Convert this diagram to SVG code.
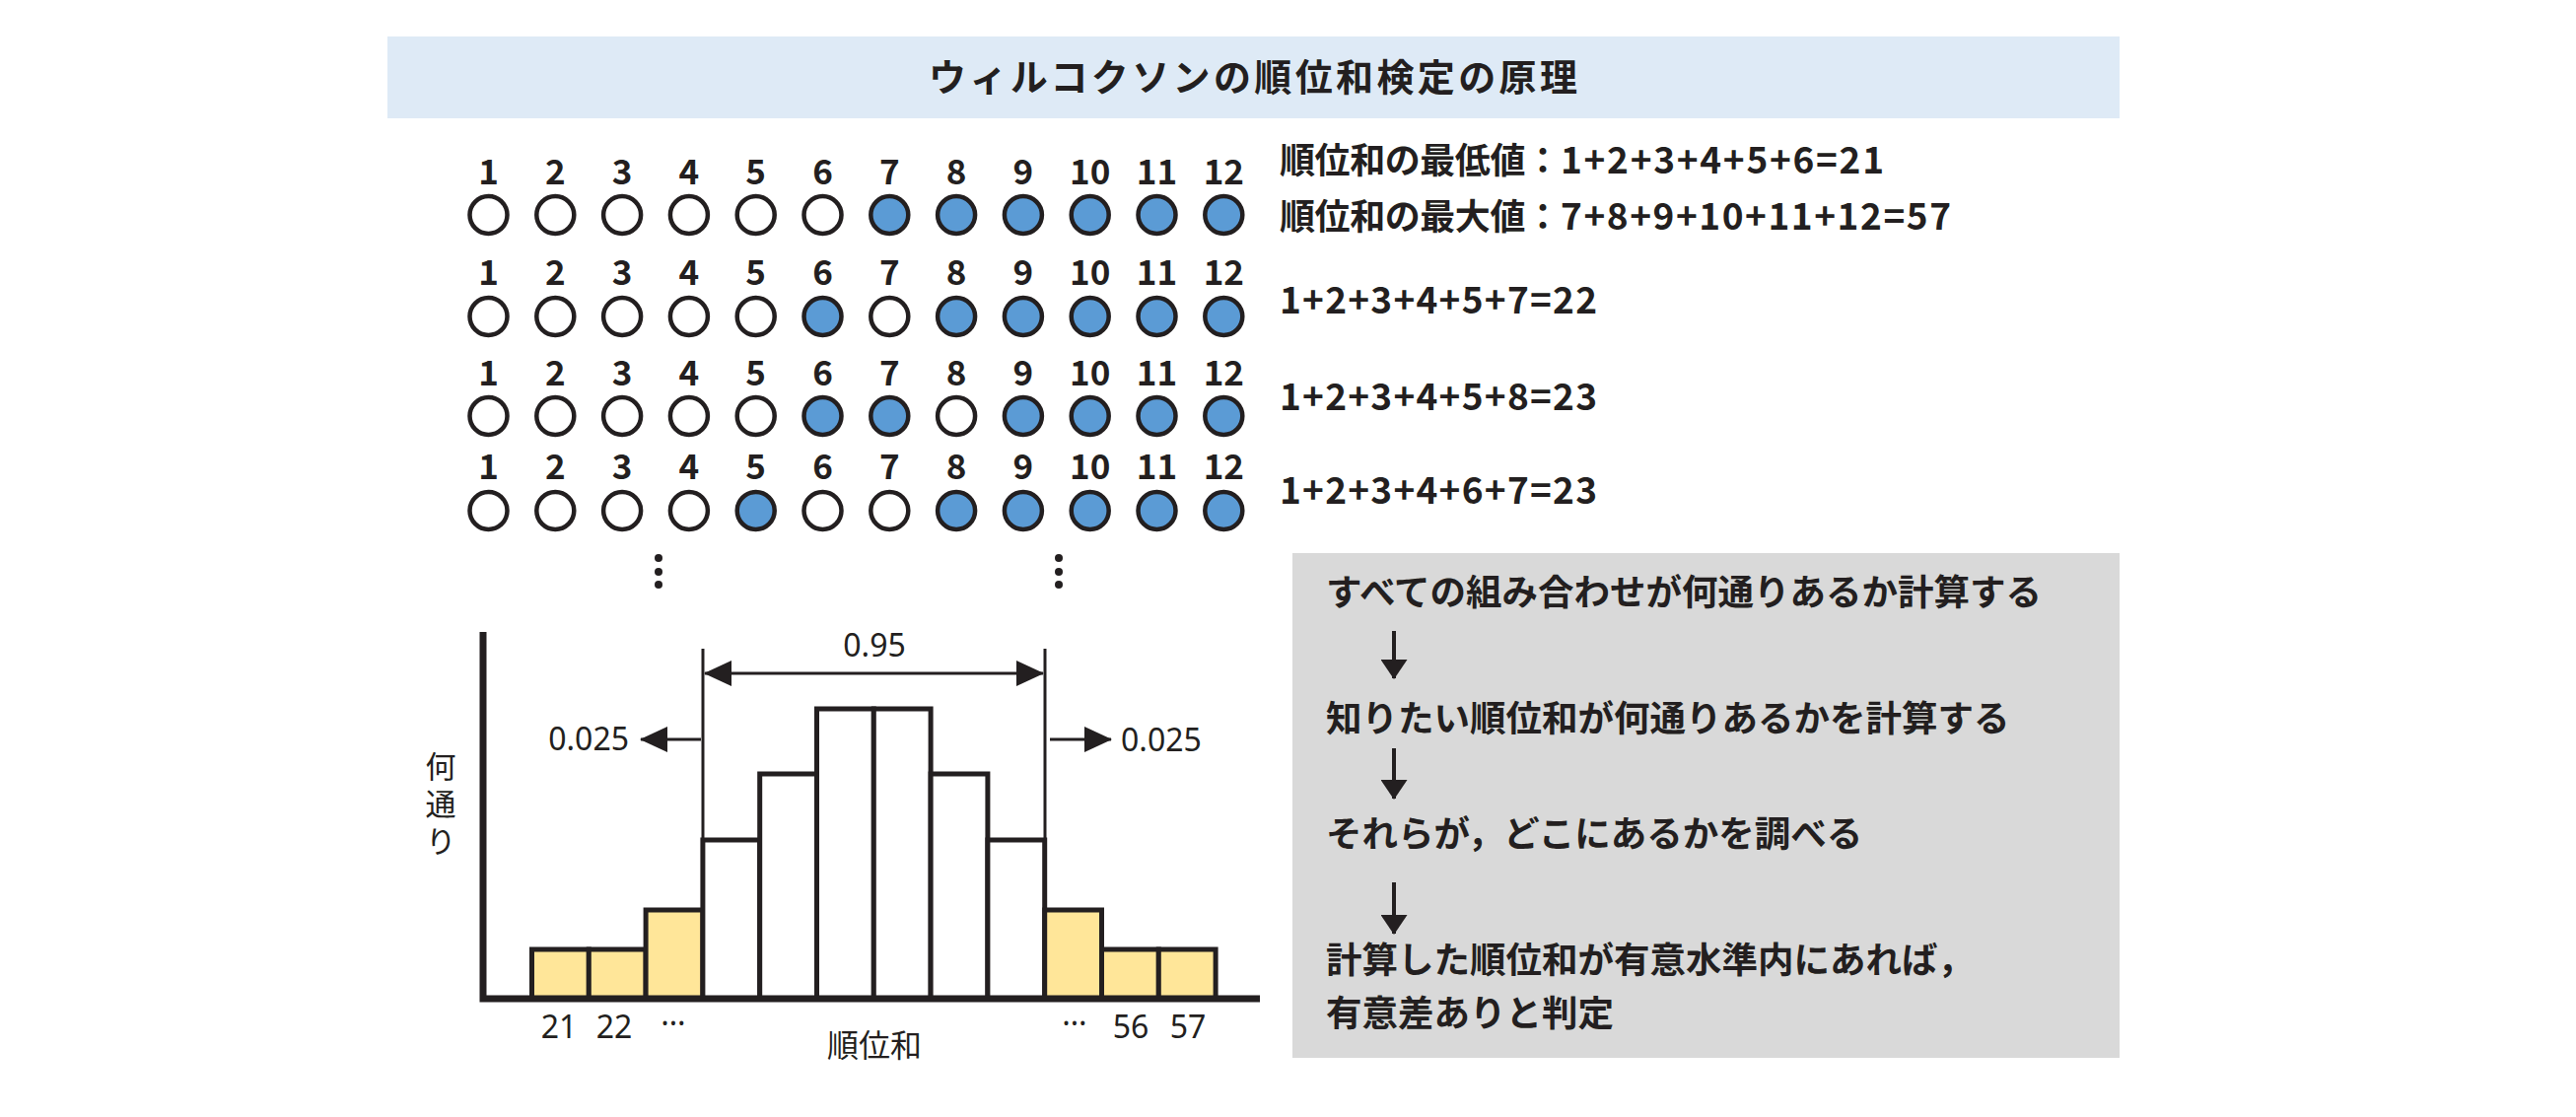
<svg xmlns="http://www.w3.org/2000/svg" width="2613" height="1133" viewBox="0 0 2613 1133">
<defs>
<style>
.t{font-family:"Noto Sans CJK JP","Noto Sans",sans-serif;fill:#231f20}
.b{font-weight:bold}
.n{font-family:"Noto Sans CJK JP","Noto Sans",sans-serif;font-weight:bold;font-size:35px;fill:#231f20;text-anchor:middle}
.r{font-family:"Noto Sans","Noto Sans CJK JP",sans-serif;font-size:32px;fill:#231f20}
.c{stroke:#231f20;stroke-width:4.5;fill:#fff}
.f{fill:#5b9bd5}
.y{fill:#ffe699;stroke:#231f20;stroke-width:5}
.w{fill:#fff;stroke:#231f20;stroke-width:5}
.ln{stroke:#231f20;stroke-width:3;fill:none}
.fl{stroke:#231f20;stroke-width:4;fill:none}
</style>
<marker id="ah" viewBox="0 0 28 26" markerWidth="28" markerHeight="26" refX="27" refY="13" orient="auto-start-reverse" markerUnits="userSpaceOnUse">
<path d="M0,0 L28,13 L0,26 z" fill="#231f20"/>
</marker>
<marker id="ah2" viewBox="0 0 20 27" markerWidth="20" markerHeight="27" refX="19" refY="13.5" orient="auto" markerUnits="userSpaceOnUse">
<path d="M0,0 L20,13.5 L0,27 z" fill="#231f20"/>
</marker>
</defs>
<rect width="2613" height="1133" fill="#fff"/>

<g id="title">
<rect x="393" y="37" width="1757" height="83" fill="#deeaf6"/>
<text class="t b" x="942" y="92" font-size="38" textLength="658">ウィルコクソンの順位和検定の原理</text>
</g>

<g id="row1">
<g class="n">
<text x="495.5" y="187">1</text><text x="563.3" y="187">2</text><text x="631.1" y="187">3</text><text x="698.9" y="187">4</text><text x="766.7" y="187">5</text><text x="834.5" y="187">6</text><text x="902.3" y="187">7</text><text x="970.1" y="187">8</text><text x="1037.9" y="187">9</text><text x="1105.7" y="187">10</text><text x="1173.5" y="187">11</text><text x="1241.3" y="187">12</text>
</g>
<circle class="c" cx="495.5" cy="218" r="19"/><circle class="c" cx="563.3" cy="218" r="19"/><circle class="c" cx="631.1" cy="218" r="19"/><circle class="c" cx="698.9" cy="218" r="19"/><circle class="c" cx="766.7" cy="218" r="19"/><circle class="c" cx="834.5" cy="218" r="19"/><circle class="c f" cx="902.3" cy="218" r="19"/><circle class="c f" cx="970.1" cy="218" r="19"/><circle class="c f" cx="1037.9" cy="218" r="19"/><circle class="c f" cx="1105.7" cy="218" r="19"/><circle class="c f" cx="1173.5" cy="218" r="19"/><circle class="c f" cx="1241.3" cy="218" r="19"/>
</g>

<g id="row2">
<g class="n">
<text x="495.5" y="289">1</text><text x="563.3" y="289">2</text><text x="631.1" y="289">3</text><text x="698.9" y="289">4</text><text x="766.7" y="289">5</text><text x="834.5" y="289">6</text><text x="902.3" y="289">7</text><text x="970.1" y="289">8</text><text x="1037.9" y="289">9</text><text x="1105.7" y="289">10</text><text x="1173.5" y="289">11</text><text x="1241.3" y="289">12</text>
</g>
<circle class="c" cx="495.5" cy="321" r="19"/><circle class="c" cx="563.3" cy="321" r="19"/><circle class="c" cx="631.1" cy="321" r="19"/><circle class="c" cx="698.9" cy="321" r="19"/><circle class="c" cx="766.7" cy="321" r="19"/><circle class="c f" cx="834.5" cy="321" r="19"/><circle class="c" cx="902.3" cy="321" r="19"/><circle class="c f" cx="970.1" cy="321" r="19"/><circle class="c f" cx="1037.9" cy="321" r="19"/><circle class="c f" cx="1105.7" cy="321" r="19"/><circle class="c f" cx="1173.5" cy="321" r="19"/><circle class="c f" cx="1241.3" cy="321" r="19"/>
</g>

<g id="row3">
<g class="n">
<text x="495.5" y="391">1</text><text x="563.3" y="391">2</text><text x="631.1" y="391">3</text><text x="698.9" y="391">4</text><text x="766.7" y="391">5</text><text x="834.5" y="391">6</text><text x="902.3" y="391">7</text><text x="970.1" y="391">8</text><text x="1037.9" y="391">9</text><text x="1105.7" y="391">10</text><text x="1173.5" y="391">11</text><text x="1241.3" y="391">12</text>
</g>
<circle class="c" cx="495.5" cy="422" r="19"/><circle class="c" cx="563.3" cy="422" r="19"/><circle class="c" cx="631.1" cy="422" r="19"/><circle class="c" cx="698.9" cy="422" r="19"/><circle class="c" cx="766.7" cy="422" r="19"/><circle class="c f" cx="834.5" cy="422" r="19"/><circle class="c f" cx="902.3" cy="422" r="19"/><circle class="c" cx="970.1" cy="422" r="19"/><circle class="c f" cx="1037.9" cy="422" r="19"/><circle class="c f" cx="1105.7" cy="422" r="19"/><circle class="c f" cx="1173.5" cy="422" r="19"/><circle class="c f" cx="1241.3" cy="422" r="19"/>
</g>

<g id="row4">
<g class="n">
<text x="495.5" y="486">1</text><text x="563.3" y="486">2</text><text x="631.1" y="486">3</text><text x="698.9" y="486">4</text><text x="766.7" y="486">5</text><text x="834.5" y="486">6</text><text x="902.3" y="486">7</text><text x="970.1" y="486">8</text><text x="1037.9" y="486">9</text><text x="1105.7" y="486">10</text><text x="1173.5" y="486">11</text><text x="1241.3" y="486">12</text>
</g>
<circle class="c" cx="495.5" cy="518" r="19"/><circle class="c" cx="563.3" cy="518" r="19"/><circle class="c" cx="631.1" cy="518" r="19"/><circle class="c" cx="698.9" cy="518" r="19"/><circle class="c f" cx="766.7" cy="518" r="19"/><circle class="c" cx="834.5" cy="518" r="19"/><circle class="c" cx="902.3" cy="518" r="19"/><circle class="c f" cx="970.1" cy="518" r="19"/><circle class="c f" cx="1037.9" cy="518" r="19"/><circle class="c f" cx="1105.7" cy="518" r="19"/><circle class="c f" cx="1173.5" cy="518" r="19"/><circle class="c f" cx="1241.3" cy="518" r="19"/>
</g>

<g id="dots" fill="#231f20">
<circle cx="668" cy="566" r="4"/><circle cx="668" cy="580" r="4"/><circle cx="668" cy="593" r="4"/>
<circle cx="1074" cy="566" r="4"/><circle cx="1074" cy="580" r="4"/><circle cx="1074" cy="593" r="4"/>
</g>

<g id="sums">
<text class="t b" x="1298" y="176" font-size="36" textLength="285">順位和の最低値：</text>
<text class="t b" x="1583" y="176" font-size="37" textLength="328">1+2+3+4+5+6=21</text>
<text class="t b" x="1298" y="233" font-size="36" textLength="285">順位和の最大値：</text>
<text class="t b" x="1583" y="233" font-size="37" textLength="396">7+8+9+10+11+12=57</text>
<text class="t b" x="1298" y="318" font-size="37" textLength="322">1+2+3+4+5+7=22</text>
<text class="t b" x="1298" y="416" font-size="37" textLength="322">1+2+3+4+5+8=23</text>
<text class="t b" x="1298" y="511" font-size="37" textLength="322">1+2+3+4+6+7=23</text>
</g>

<g id="chart">
<rect class="y" x="539.5" y="963" width="57.8" height="50"/>
<rect class="y" x="597.3" y="963" width="57.8" height="50"/>
<rect class="y" x="655.1" y="923" width="57.8" height="90"/>
<rect class="w" x="712.9" y="852" width="57.8" height="161"/>
<rect class="w" x="770.7" y="785" width="57.8" height="228"/>
<rect class="w" x="828.5" y="719" width="57.8" height="294"/>
<rect class="w" x="886.3" y="719" width="57.8" height="294"/>
<rect class="w" x="944.1" y="785" width="57.8" height="228"/>
<rect class="w" x="1001.9" y="852" width="57.8" height="161"/>
<rect class="y" x="1059.7" y="923" width="57.8" height="90"/>
<rect class="y" x="1117.5" y="963" width="57.8" height="50"/>
<rect class="y" x="1175.3" y="963" width="57.8" height="50"/>
<path d="M490,641 V1013 H1278" fill="none" stroke="#231f20" stroke-width="7"/>
<text class="t" x="447" y="762" font-size="31" writing-mode="vertical-rl" letter-spacing="7">何通り</text>
<text class="r" x="567" y="1053" text-anchor="middle">21</text>
<text class="r" x="623" y="1053" text-anchor="middle">22</text>
<text class="r" x="683" y="1040" text-anchor="middle">…</text>
<text class="r" x="1090" y="1040" text-anchor="middle">…</text>
<text class="r" x="1147" y="1053" text-anchor="middle">56</text>
<text class="r" x="1205" y="1053" text-anchor="middle">57</text>
<text class="t" x="887" y="1072" font-size="32" text-anchor="middle">順位和</text>
<text class="r" x="887" y="666" text-anchor="middle">0.95</text>
<text class="r" x="638" y="761" text-anchor="end">0.025</text>
<text class="r" x="1137" y="762">0.025</text>
</g>

<g id="connectors">
<line class="ln" x1="713" y1="658" x2="713" y2="852"/>
<line class="ln" x1="1060" y1="658" x2="1060" y2="852"/>
<line class="ln" x1="715" y1="683" x2="1058" y2="683" marker-start="url(#ah)" marker-end="url(#ah)"/>
<line class="ln" x1="711" y1="750" x2="650" y2="750" marker-end="url(#ah)"/>
<line class="ln" x1="1065" y1="750" x2="1127" y2="750" marker-end="url(#ah)"/>
</g>

<g id="flow">
<rect x="1311" y="561" width="839" height="512" fill="#d9d9d9"/>
<text class="t b" x="1345" y="614" font-size="36.5">すべての組み合わせが何通りあるか計算する</text>
<text class="t b" x="1345" y="742" font-size="36.5">知りたい順位和が何通りあるかを計算する</text>
<text class="t b" x="1345" y="859" font-size="36.5">それらが，どこにあるかを調べる</text>
<text class="t b" x="1345" y="987" font-size="36.5">計算した順位和が有意水準内にあれば，</text>
<text class="t b" x="1345" y="1041" font-size="36.5">有意差ありと判定</text>
</g>
<g id="flow-arrows">
<line class="fl" x1="1414" y1="640" x2="1414" y2="688" marker-end="url(#ah2)"/>
<line class="fl" x1="1414" y1="759" x2="1414" y2="810" marker-end="url(#ah2)"/>
<line class="fl" x1="1414" y1="895" x2="1414" y2="947" marker-end="url(#ah2)"/>
</g>
</svg>
